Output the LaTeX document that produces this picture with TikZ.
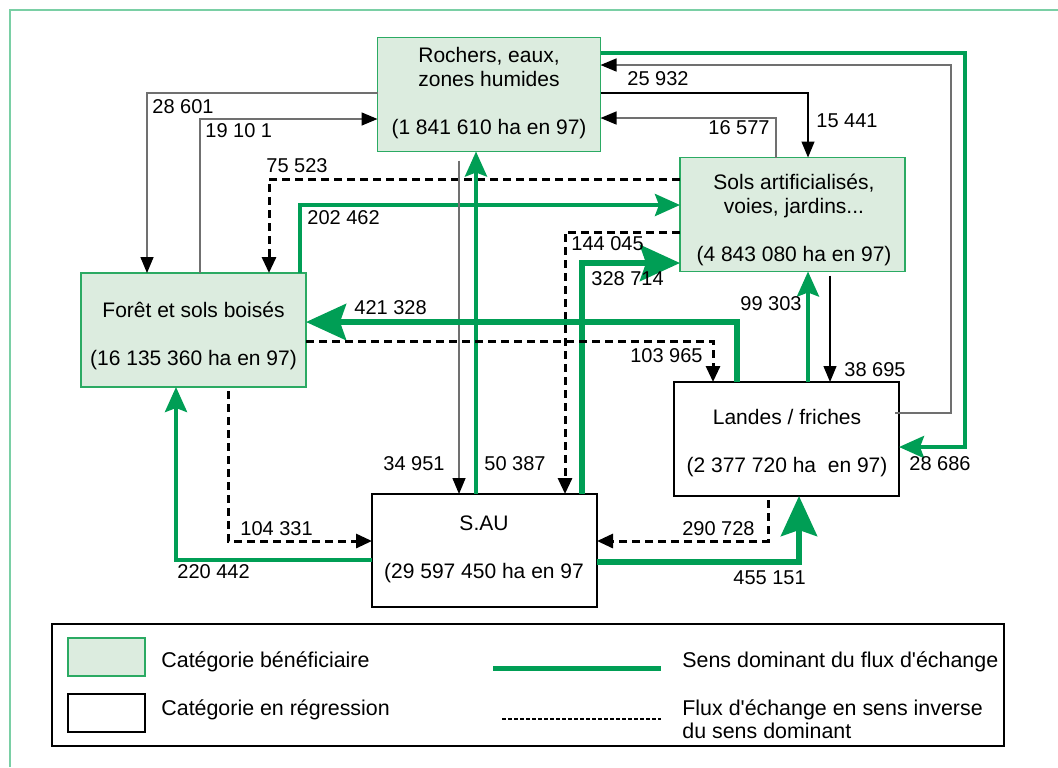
\documentclass[tikz,border=0pt]{standalone}
\usepackage{fontspec}
\setmainfont{Liberation Sans}
\usetikzlibrary{arrows.meta}
\definecolor{boxfill}{HTML}{DCECDF}
\definecolor{boxgreen}{HTML}{2BAA63}
\definecolor{flowgreen}{HTML}{009E55}
\definecolor{framegreen}{HTML}{7ACFA5}
\definecolor{linegray}{HTML}{707070}
\tikzset{
  gbox/.style={draw=boxgreen, fill=boxfill, line width=0.8pt, inner sep=0pt, outer sep=0pt},
  wbox/.style={draw=black, fill=white, line width=0.7pt, inner sep=0pt, outer sep=0pt},
  boxtext/.style={align=center, inner sep=0pt, font=\fontsize{10.5}{12}\selectfont},
  thinarrow/.style={draw=linegray, line width=0.75pt, -{Triangle[length=8pt,width=6.5pt,color=black]}},
  blackarrow/.style={draw=black, line width=0.6pt, -{Triangle[length=8pt,width=6.5pt,color=black]}},
  dashflow/.style={draw=black, line width=1.5pt, dash pattern=on 4pt off 2.5pt, -{Triangle[length=8pt,width=7pt]}},
  gflow/.style={draw=flowgreen, line width=2pt, -{Stealth[length=12.5pt,width=11pt,inset=2pt]}},
  bigflow/.style={draw=flowgreen, line width=3pt, -{Stealth[length=20pt,width=18pt,inset=3pt]}},
  lab/.style={inner sep=0pt, font=\fontsize{10}{12}\selectfont},
  legtext/.style={inner sep=0pt, font=\fontsize{10.7}{11.5}\selectfont, align=left}
}
\begin{document}
\begin{tikzpicture}[x=0.5pt,y=-0.5pt]
\useasboundingbox (0,0) rectangle (1058,767);
% outer frame (top and left visible)
\draw[framegreen, line width=1pt] (10,767) -- (10,10) -- (1058,10);

% boxes
\node[gbox, minimum width=111.5pt, minimum height=57pt] (roch) at (489,94.5) {};
\node[boxtext] (rochT) at (489,93.5) {Rochers, eaux,\\zones humides\\[12pt](1 841 610 ha en 97)};
\node[gbox, minimum width=112.5pt, minimum height=57pt] (sols) at (792.5,214.5) {};
\node[boxtext] (solsT) at (794,220) {Sols artificialisés,\\voies, jardins...\\[12pt](4 843 080 ha en 97)};
\node[gbox, minimum width=112.5pt, minimum height=57pt] (foret) at (193.5,330) {};
\node[boxtext] (foretT) at (193.5,336) {Forêt et sols boisés\\[12pt](16 135 360 ha en 97)};
\node[wbox, minimum width=112.5pt, minimum height=57pt] (landes) at (786.5,439) {};
\node[boxtext] (landesT) at (787,443) {Landes / friches\\[12pt](2 377 720 ha\ \ en 97)};
\node[wbox, minimum width=112.5pt, minimum height=56.5pt] (sau) at (484.5,550.5) {};
\node[boxtext] (sauT) at (484,549) {S.AU\\[12pt](29 597 450 ha en 97};

% connectors
\draw[thinarrow] (roch.west |- 0,93) -| (147,0 |- foret.north);
\draw[thinarrow] (200,0 |- foret.north) |- (roch.west |- 0,119);
\draw[dashflow] (sols.west |- 0,179) -| (269,0 |- foret.north);
\draw[gflow] (300,0 |- foret.north) |- (sols.west |- 0,205);
\draw[thinarrow, shorten <=4.5pt] (459,0 |- roch.south) -- (459,0 |- sau.north);
\draw[gflow] (476,0 |- sau.north) -- (476,0 |- roch.south);
\draw[thinarrow] ([xshift=-2pt]landes.east |- 0,413) -- (951,413) |- (roch.east |- 0,65);
\draw[gflow] (roch.east |- 0,53) -- (965,53) |- (landes.east |- 0,447);
\draw[blackarrow] (roch.east |- 0,93) -| (808,0 |- sols.north);
\draw[thinarrow] (776,0 |- sols.north) |- (roch.east |- 0,118);
\draw[dashflow] (sols.west |- 0,232) -| (565,0 |- sau.north);
\draw[bigflow] (582,0 |- sau.north) |- (sols.west |- 0,263);
\draw[bigflow] (737,0 |- landes.north) |- (foret.east |- 0,322);
\draw[dashflow] (foret.east |- 0,341) -| (713,0 |- landes.north);
\draw[gflow] (808,0 |- landes.north) -- (808,0 |- sols.south);
\draw[blackarrow, shorten <=2pt] (830,0 |- sols.south) -- (830,0 |- landes.north);
\draw[dashflow, shorten <=2pt] (228,0 |- foret.south) |- (sau.west |- 0,541);
\draw[gflow] (sau.west |- 0,560) -| (176,0 |- foret.south);
\draw[dashflow, shorten <=2pt] (768,0 |- landes.south) |- (sau.east |- 0,541);
\draw[bigflow] (sau.east |- 0,562) -| (799,0 |- landes.south);

% labels
\node[lab, anchor=west] (l1) at (152,107) {28 601};
\node[lab, anchor=west] (l2) at (205,131) {19 10 1};
\node[lab, anchor=west] (l3) at (266,166) {75 523};
\node[lab, anchor=west] (l4) at (307,218) {202 462};
\node[lab, anchor=west] (l5) at (571,244) {144 045};
\node[lab, anchor=west] (l6) at (591,279) {328 714};
\node[lab, anchor=west] (l7) at (627,79) {25 932};
\node[lab, anchor=west] (l8) at (816,121) {15 441};
\node[lab, anchor=east] (l9) at (770,128) {16 577};
\node[lab, anchor=east] (l10) at (802,304) {99 303};
\node[lab, anchor=east] (l11) at (703,356) {103 965};
\node[lab, anchor=west] (l12) at (844,370) {38 695};
\node[lab, anchor=west] (l13) at (909,464) {28 686};
\node[lab, anchor=east] (l14) at (755,529) {290 728};
\node[lab, anchor=west] (l15) at (733,578) {455 151};
\node[lab, anchor=west] (l16) at (354,308) {421 328};
\node[lab, anchor=east] (l17) at (445,464) {34 951};
\node[lab, anchor=west] (l18) at (484,464) {50 387};
\node[lab, anchor=west] (l19) at (240,529) {104 331};
\node[lab, anchor=west] (l20) at (177,572) {220 442};

% legend
\node[draw=black, line width=0.6pt, minimum width=476pt, minimum height=61pt, inner sep=0pt] (legend) at (528,685) {};
\node[gbox, minimum width=38.5pt, minimum height=19pt] (lg1) at (106.5,657) {};
\node[wbox, minimum width=38.5pt, minimum height=19pt] (lg2) at (106.5,713) {};
\node[legtext, anchor=base west] (lt1) at (161,667) {Catégorie bénéficiaire};
\node[legtext, anchor=base west] (lt2) at (161,715) {Catégorie en régression};
\coordinate (g1a) at (493,668);
\coordinate (g1b) at (661,668);
\draw[flowgreen, line width=2.5pt] (g1a) -- (g1b);
\coordinate (d1a) at (502,719);
\coordinate (d1b) at (661,719);
\draw[black, line width=1.3pt, dash pattern=on 2pt off 1pt] (d1a) -- (d1b);
\node[legtext, anchor=base west] (lt3) at (682,667) {Sens dominant du flux d\textquotesingle échange};
\node[legtext, anchor=north west] (lt4) at (682,699) {Flux d\textquotesingle échange en sens inverse\\du sens dominant};
\end{tikzpicture}
\end{document}
